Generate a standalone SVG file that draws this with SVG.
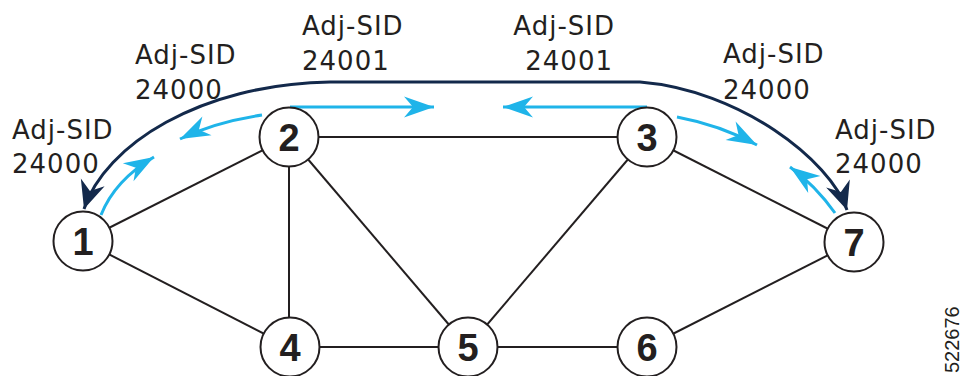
<svg xmlns="http://www.w3.org/2000/svg" width="965" height="376" viewBox="0 0 965 376">
<style>
.edge{stroke:#231f20;stroke-width:2;fill:none}
.node circle{fill:#fff;stroke:#231f20;stroke-width:2}
.node text{font-family:"Liberation Sans",Arial,sans-serif;font-weight:bold;font-size:38px;fill:#231f20;text-anchor:middle}
.lbl{font-family:"DejaVu Sans","Liberation Sans",sans-serif;font-size:26px;fill:#231f20;letter-spacing:1px}
.blue{stroke:#1fb4e9;stroke-width:3;fill:none;marker-end:url(#ab)}
.dark{stroke:#13294b;stroke-width:3;fill:none;marker-start:url(#ad);marker-end:url(#ad)}
</style>
<defs>
<marker id="ab" markerUnits="userSpaceOnUse" viewBox="-32 -12 34 24" refX="0" refY="0" markerWidth="34" markerHeight="24" orient="auto">
<path d="M0,0 L-30,-10.5 L-21,0 L-30,10.5 Z" fill="#1fb4e9"/>
</marker>
<marker id="ad" markerUnits="userSpaceOnUse" viewBox="-30 -14 32 28" refX="0" refY="0" markerWidth="32" markerHeight="28" orient="auto-start-reverse">
<path d="M0,0 L-28,-12.5 L-19,0 L-28,12.5 Z" fill="#13294b"/>
</marker>
</defs>
<g id="connectors">
<line class="edge" x1="83" y1="241" x2="289" y2="137"/>
<line class="edge" x1="83" y1="241" x2="290" y2="347"/>
<line class="edge" x1="289" y1="137" x2="647" y2="137"/>
<line class="edge" x1="289" y1="137" x2="289" y2="347"/>
<line class="edge" x1="289" y1="137" x2="468" y2="347"/>
<line class="edge" x1="647" y1="137" x2="468" y2="347"/>
<line class="edge" x1="647" y1="137" x2="854" y2="242"/>
<line class="edge" x1="290" y1="347" x2="647" y2="347"/>
<line class="edge" x1="647" y1="347" x2="854" y2="242"/>
<path class="dark" d="M84,209 C105,145 200,84 330,82 L640,82 C740,90 830,160 847,210"/>
<path class="blue" d="M101,215 Q115,180 154,157"/>
<path class="blue" d="M262,115 Q215,122 180,139"/>
<path class="blue" d="M290,107 L434,107"/>
<path class="blue" d="M647,107 L503,107"/>
<path class="blue" d="M677,117 Q720,125 757,145"/>
<path class="blue" d="M835,213 Q815,185 790,167"/>
</g>
<g id="n1" class="node"><circle cx="83" cy="241" r="29.5"/><text x="83" y="255">1</text></g>
<g id="n2" class="node"><circle cx="289" cy="137" r="29.5"/><text x="289" y="151">2</text></g>
<g id="n3" class="node"><circle cx="647" cy="137" r="29.5"/><text x="647" y="151">3</text></g>
<g id="n4" class="node"><circle cx="290" cy="347" r="29.5"/><text x="290" y="361">4</text></g>
<g id="n5" class="node"><circle cx="468" cy="347" r="29.5"/><text x="468" y="361">5</text></g>
<g id="n6" class="node"><circle cx="647" cy="347" r="29.5"/><text x="647" y="361">6</text></g>
<g id="n7" class="node"><circle cx="854" cy="242" r="29.5"/><text x="854" y="256">7</text></g>
<g id="labels">
<text class="lbl" x="12" y="139">Adj-SID</text>
<text class="lbl" x="12" y="173">24000</text>
<text class="lbl" x="135" y="64">Adj-SID</text>
<text class="lbl" x="135" y="99">24000</text>
<text class="lbl" x="302" y="35">Adj-SID</text>
<text class="lbl" x="302" y="70">24001</text>
<text class="lbl" x="615" y="35" text-anchor="end">Adj-SID</text>
<text class="lbl" x="613" y="70" text-anchor="end">24001</text>
<text class="lbl" x="723" y="63">Adj-SID</text>
<text class="lbl" x="723" y="99">24000</text>
<text class="lbl" x="835" y="139">Adj-SID</text>
<text class="lbl" x="835" y="173">24000</text>
<text transform="translate(959,373) rotate(-90)" font-family="'Liberation Sans',Arial,sans-serif" font-size="20" fill="#231f20">522676</text>
</g>
</svg>
